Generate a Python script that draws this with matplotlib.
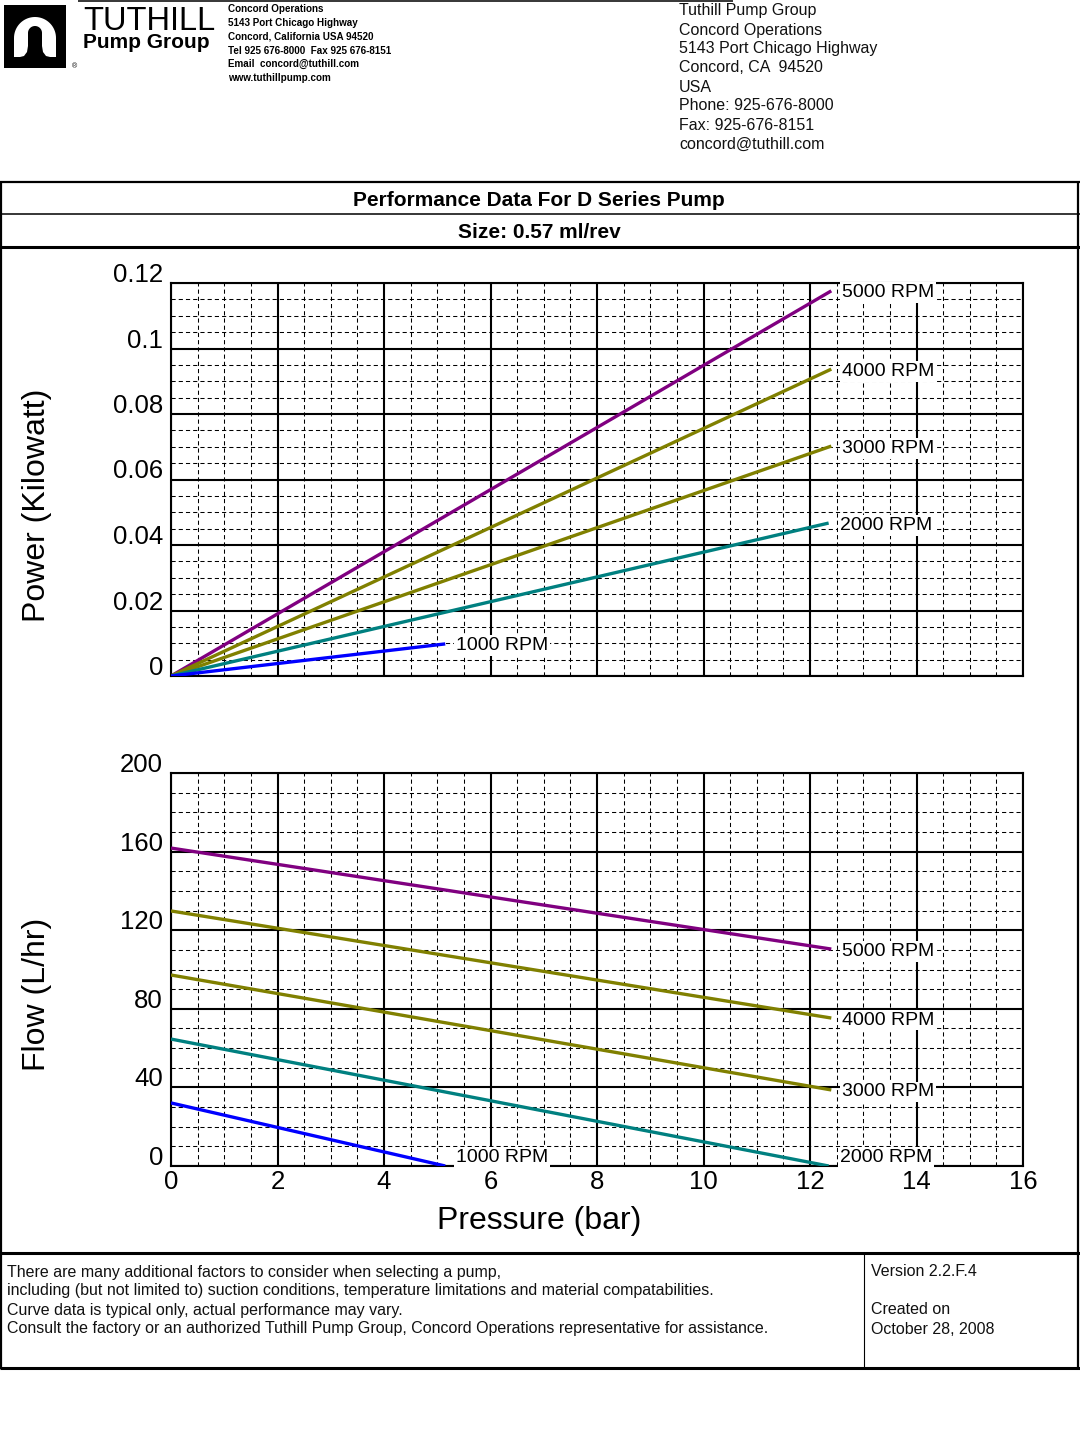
import numpy as np
import matplotlib
matplotlib.use('Agg')
import matplotlib.pyplot as plt
from matplotlib.patches import Rectangle, Polygon
from matplotlib.ticker import MultipleLocator

plt.rcParams['font.family'] = ['Liberation Sans', 'DejaVu Sans']
plt.rcParams['lines.scale_dashes'] = False

# series
rpm_labels = ['5000 RPM', '4000 RPM', '3000 RPM', '2000 RPM', '1000 RPM']
line_colors = ['#800080', '#808000', '#808000', '#008080', '#0000ff']
p_end = [12.4, 12.4, 12.4, 12.35, 5.15]          # bar, last point of each curve
power_end = [0.1176, 0.0937, 0.0702, 0.0467, 0.0098]  # kW at p_end (0 kW at 0 bar)
flow_start = [161.8, 129.8, 97.2, 64.6, 32.1]    # L/hr at 0 bar
flow_end = [110.4, 75.3, 38.7, 0.0, 0.0]         # L/hr at p_end

x_ticks = [0, 2, 4, 6, 8, 10, 12, 14, 16]
power_ticks = [0, 0.02, 0.04, 0.06, 0.08, 0.10, 0.12]
power_tick_labels = ['0', '0.02', '0.04', '0.06', '0.08', '0.1', '0.12']
flow_ticks = [0, 40, 80, 120, 160, 200]

header_lines = ['Tuthill Pump Group', 'Concord Operations', '5143 Port Chicago Highway',
                'Concord, CA  94520', 'USA', 'Phone: 925-676-8000', 'Fax: 925-676-8151',
                'concord@tuthill.com']
logo_lines = ['Concord Operations', '5143 Port Chicago Highway', 'Concord, California USA 94520',
              'Tel 925 676-8000  Fax 925 676-8151', 'Email  concord@tuthill.com', 'www.tuthillpump.com']
footer_lines = ['There are many additional factors to consider when selecting a pump,',
                'including (but not limited to) suction conditions, temperature limitations and material compatabilities.',
                'Curve data is typical only, actual performance may vary.',
                'Consult the factory or an authorized Tuthill Pump Group, Concord Operations representative for assistance.']

W, H = 1080, 1440
fig = plt.figure(figsize=(W / 100, H / 100), dpi=100)

# background layer in pixel coordinates
bg = fig.add_axes([0, 0, 1, 1])
bg.set_xlim(0, W)
bg.set_ylim(H, 0)
bg.axis('off')


def seg(x0, y0, x1, y1, lw):
    bg.plot([x0, x1], [y0, y1], color='black', lw=lw, solid_capstyle='butt')


# frame
seg(78, 1, 733, 1, 1.1)
seg(0, 182, W, 182, 1.6)
seg(1, 181, 1, 1369, 1.6)
seg(1078, 181, 1078, 1369, 1.6)
seg(0, 214, W, 214, 1.1)
seg(0, 246.5, W, 246.5, 2.2)
seg(0, 1253, W, 1253, 2.2)
seg(0, 1367.5, W, 1367.5, 2.2)
seg(864, 1253, 864, 1367, 0.8)

# logo
bg.add_patch(Rectangle((4, 5), 62, 63, color='black', lw=0))
t = np.linspace(np.pi, 0, 40)
outer = [(14, 57), (14, 38)] + list(zip(35 + 21 * np.cos(t), 38 - 21 * np.sin(t))) + [(56, 38), (56, 57)]
bg.add_patch(Polygon(outer, closed=True, color='white', lw=0))
inner = [(20, 57), (24, 56), (27, 52), (28, 46), (28, 33)] + \
        list(zip(35 + 7 * np.cos(t), 33 - 7 * np.sin(t))) + \
        [(42, 33), (42, 46), (43, 52), (46, 56), (50, 57)]
bg.add_patch(Polygon(inner, closed=True, color='black', lw=0))
bg.text(74, 68, '®', fontsize=5, ha='center', va='baseline')
bg.text(83, 29.5, 'TUTHILL', fontsize=23.5, ha='left', va='baseline')
bg.text(83, 48.5, 'Pump Group', fontsize=15, fontweight='bold', ha='left', va='baseline')
for i, s in enumerate(logo_lines):
    bg.text(228, 12.5 + 13.7 * i, s, fontsize=7.1, fontweight='bold', ha='left', va='baseline')

for i, s in enumerate(header_lines):
    bg.text(679, 15.5 + 19 * i, s, fontsize=11.5, ha='left', va='baseline', color='#111111')

bg.text(539, 205.5, 'Performance Data For D Series Pump', fontsize=15, fontweight='bold',
        ha='center', va='baseline')
bg.text(539, 238.5, 'Size: 0.57 ml/rev', fontsize=15, fontweight='bold', ha='center', va='baseline')

for i, s in enumerate(footer_lines):
    bg.text(7, 1276.5 + 19 * i, s, fontsize=11.5, ha='left', va='baseline', color='#111111')
bg.text(871, 1276.5, 'Version 2.2.F.4', fontsize=11.5, ha='left', va='baseline', color='#111111')
bg.text(871, 1314.5, 'Created on', fontsize=11.5, ha='left', va='baseline', color='#111111')
bg.text(871, 1333.5, 'October 28, 2008', fontsize=11.5, ha='left', va='baseline', color='#111111')

bg.text(37, 505, 'Power (Kilowatt)', fontsize=23, rotation=90, ha='center', va='center')
bg.text(37, 994, 'Flow (L/hr)', fontsize=23, rotation=90, ha='center', va='center')
bg.text(539, 1229.5, 'Pressure (bar)', fontsize=23, ha='center', va='baseline')


def px_axes(left, top, right, bottom):
    return fig.add_axes([left / W, 1 - bottom / H, (right - left) / W, (bottom - top) / H])


def style(ax, ymax, ymajor, yminor):
    ax.set_xlim(0, 16)
    ax.set_ylim(0, ymax)
    ax.xaxis.set_major_locator(MultipleLocator(2))
    ax.xaxis.set_minor_locator(MultipleLocator(0.5))
    ax.yaxis.set_major_locator(MultipleLocator(ymajor))
    ax.yaxis.set_minor_locator(MultipleLocator(yminor))
    ax.set_axisbelow(True)
    ax.grid(which='major', color='black', lw=1.5, ls='-')
    ax.grid(which='minor', color='black', lw=0.75, ls=(0, (3, 2.2)))
    ax.tick_params(which='both', length=0, labelbottom=False, labelleft=False)
    for sp in ax.spines.values():
        sp.set_linewidth(1.5)


def ytick_labels(ax, ticks, labels):
    for v, lab in zip(ticks, labels):
        ax.annotate(lab, xy=(0, v), xycoords=('axes fraction', 'data'), xytext=(-8, 1),
                    textcoords='offset pixels', ha='right', va='baseline', fontsize=18.5,
                    annotation_clip=False)


def rpm_label(ax, text, x, y, va):
    dy = 0 if va == 'bottom' else -2
    ax.annotate(text, xy=(x, y), xytext=(11, dy), textcoords='offset pixels', ha='left', va=va,
                fontsize=14, zorder=10, annotation_clip=False,
                bbox=dict(boxstyle='square,pad=0.1', fc='white', ec='none'))


ax1 = px_axes(171, 283, 1023, 676)
style(ax1, 0.12, 0.02, 0.005)
ytick_labels(ax1, power_ticks, power_tick_labels)
for lab, c, pe, we in zip(rpm_labels, line_colors, p_end, power_end):
    ax1.plot([0, pe], [0, we], color=c, lw=2.4, solid_capstyle='butt', zorder=3)
    rpm_label(ax1, lab, pe, we, 'center')

ax2 = px_axes(171, 773, 1023, 1166)
style(ax2, 200, 40, 10)
ytick_labels(ax2, flow_ticks, [str(v) for v in flow_ticks])
for v in x_ticks:
    ax2.annotate(str(v), xy=(v, 0), xycoords=('data', 'axes fraction'), xytext=(0, -4),
                 textcoords='offset pixels', ha='center', va='top', fontsize=18.5,
                 annotation_clip=False)
for lab, c, pe, fs, fe in zip(rpm_labels, line_colors, p_end, flow_start, flow_end):
    ax2.plot([0, pe], [fs, fe], color=c, lw=2.4, solid_capstyle='butt', zorder=3)
    rpm_label(ax2, lab, pe, fe, 'bottom' if fe <= 0 else 'center')

fig.savefig('out.png', dpi=100)
